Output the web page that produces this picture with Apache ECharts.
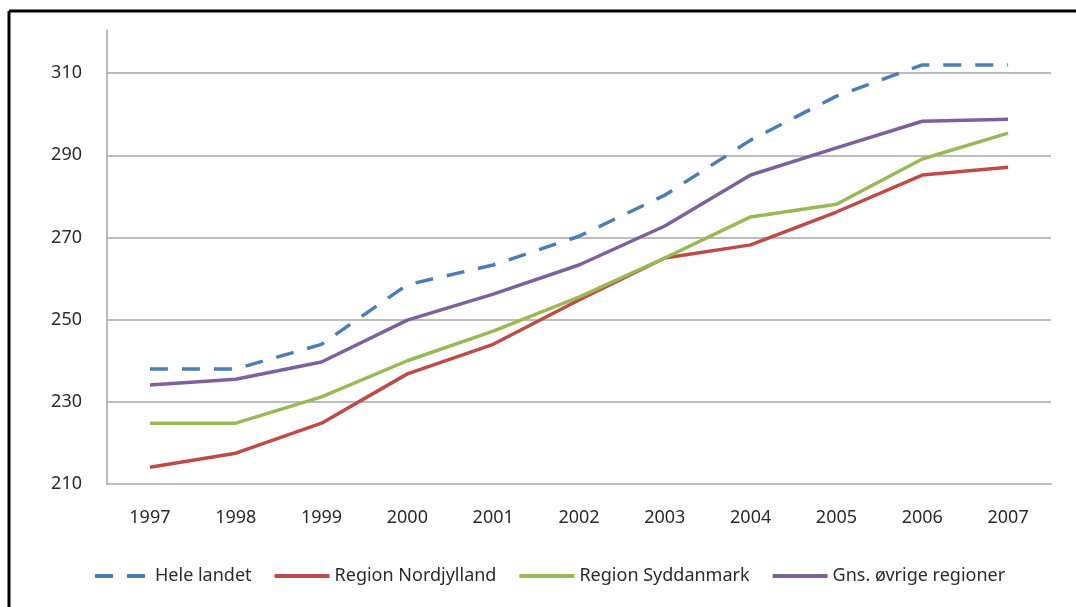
<!DOCTYPE html>
<html>
<head>
<meta charset="utf-8">
<script src="https://cdn.jsdelivr.net/npm/echarts@6/dist/echarts.min.js"></script>
<style>
  html, body { margin: 0; padding: 0; background: #fff; }
  #chart { width: 1076px; height: 607px; }
</style>
</head>
<body>
<div id="chart"></div>
<script>
const years = ['1997', '1998', '1999', '2000', '2001', '2002', '2003', '2004', '2005', '2006', '2007'];
const heleLandet = [238, 238, 244, 258.5, 263.3, 270.3, 280.3, 293.7, 304.4, 312, 312];
const nordjylland = [214.1, 217.5, 224.8, 236.8, 244, 254.8, 265, 268.2, 276.2, 285.2, 287.1];
const syddanmark = [224.8, 224.8, 231.2, 240, 247.2, 255.5, 265, 275, 278.1, 289.1, 295.4];
const ovrige = [234.1, 235.5, 239.7, 249.9, 256.2, 263.3, 272.8, 285.2, 291.8, 298.3, 298.8];
const yTicks = [210, 230, 250, 270, 290, 310];

const FONT = 'Noto Sans';
const TXT = '#2b2b2b';
const GRID = '#a6a6a6';

const chart = echarts.init(document.getElementById('chart'));

const line = (name, data, color, extra) => Object.assign({
  name: name,
  type: 'line',
  data: data,
  symbol: 'none',
  smooth: false,
  lineStyle: { color: color, width: 3.5 },
  itemStyle: { color: color },
  z: 3
}, extra || {});

chart.setOption({
  backgroundColor: '#fff',
  animation: false,
  textStyle: { fontFamily: FONT },
  grid: { left: 107, right: 25, top: 30, bottom: 123 },
  // black frame on top and left side
  graphic: [
    { type: 'line', shape: { x1: 9, y1: 11, x2: 1076, y2: 11 }, style: { stroke: '#000', lineWidth: 3 } },
    { type: 'line', shape: { x1: 9, y1: 11, x2: 9, y2: 607 }, style: { stroke: '#000', lineWidth: 3 } }
  ],
  legend: {
    left: 88,
    top: 562,
    itemWidth: 55,
    itemHeight: 14,
    itemGap: 21,
    itemStyle: { opacity: 0 },
    lineStyle: { width: 4 },
    textStyle: { fontFamily: FONT, fontSize: 18, color: TXT },
    data: ['Hele landet', 'Region Nordjylland', 'Region Syddanmark', 'Gns. øvrige regioner']
  },
  xAxis: {
    type: 'category',
    data: years,
    boundaryGap: true,
    axisLine: { lineStyle: { color: GRID, width: 1.5 } },
    axisTick: { show: false },
    axisLabel: { margin: 25, fontFamily: FONT, fontSize: 18, color: TXT }
  },
  yAxis: {
    type: 'value',
    min: 210,
    max: 320.5,
    interval: 10,
    axisLine: { show: true, lineStyle: { color: GRID, width: 1.5 } },
    axisTick: { show: false },
    splitLine: { show: false },
    axisLabel: {
      margin: 25,
      fontFamily: FONT,
      fontSize: 18,
      color: TXT,
      formatter: v => yTicks.indexOf(v) >= 0 ? String(v) : ''
    }
  },
  series: [
    line('Hele landet', heleLandet, '#4a7ebb', {
      lineStyle: { color: '#4a7ebb', width: 3.5, type: [18, 14], cap: 'butt' },
      // horizontal gridlines at the labelled ticks
      markLine: {
        silent: true,
        symbol: 'none',
        label: { show: false },
        lineStyle: { color: GRID, width: 1.5, type: 'solid' },
        z: 1,
        data: yTicks.slice(1).map(v => ({ yAxis: v }))
      }
    }),
    line('Region Nordjylland', nordjylland, '#be4b48'),
    line('Region Syddanmark', syddanmark, '#98b954'),
    line('Gns. øvrige regioner', ovrige, '#7d60a0')
  ]
});
</script>
</body>
</html>
